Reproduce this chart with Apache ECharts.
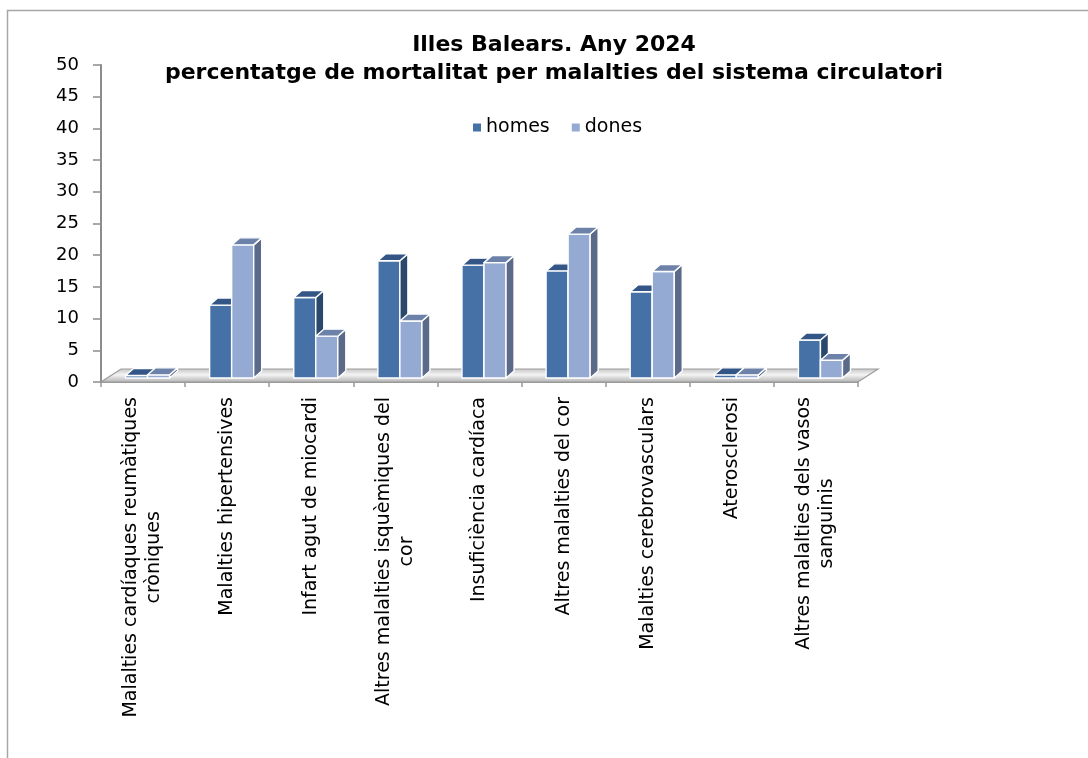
<!DOCTYPE html>
<html><head><meta charset="utf-8">
<script src="https://cdn.jsdelivr.net/npm/echarts@6/dist/echarts.min.js"></script>
<style>html,body{margin:0;padding:0;background:#fff}#c{width:1088px;height:758px}</style>
</head><body><div id="c"></div>
<script>
const categories = [
  'Malalties cardíaques reumàtiques\ncròniques',
  'Malalties hipertensives',
  'Infart agut de miocardi',
  'Altres malalties isquèmiques del\ncor',
  'Insuficiència cardíaca',
  'Altres malalties del cor',
  'Malalties cerebrovasculars',
  'Aterosclerosi',
  'Altres malalties dels vasos\nsanguinis'
];
const homes = [0.4, 11.5, 12.7, 18.5, 17.8, 16.9, 13.6, 0.5, 6.0];
const dones = [0.5, 21.0, 6.6, 9.0, 18.2, 22.7, 16.8, 0.5, 2.8];
const seriesNames = ['homes', 'dones'];
const titleLines = ['Illes Balears. Any 2024', 'percentatge de mortalitat per malalties del sistema circulatori'];

const FONT = 'DejaVu Sans';
const palette = [
  {front: '#4571a7', top: '#335686', side: '#2a476c'},
  {front: '#95aad3', top: '#6c82a9', side: '#5a6a88'}
];

function barRender(si) {
  const col = palette[si];
  return function (params, api) {
    const idx = api.value(0), val = api.value(1);
    const c = api.coord([idx, val]);
    const b = api.coord([idx, 0]);
    const W = api.size([1, 0])[0];
    const bw = W * 0.262;
    const sx = 4.5, sy = -4;
    const dx = 8, dy = -7;
    const x0 = c[0] + (si === 0 ? -bw : 0) + sx;
    const x1 = x0 + bw;
    const top = c[1] + sy, base = b[1] + sy;
    const stroke = {stroke: '#ffffff', lineWidth: 1.4, lineJoin: 'round'};
    return {
      type: 'group',
      children: [
        {type: 'rect', shape: {x: x0, y: top, width: bw, height: base - top},
          style: Object.assign({fill: col.front}, stroke)},
        {type: 'polygon', shape: {points: [[x1, top], [x1 + dx, top + dy], [x1 + dx, base + dy], [x1, base]]},
          style: Object.assign({fill: col.side}, stroke)},
        {type: 'polygon', shape: {points: [[x0, top], [x0 + dx, top + dy], [x1 + dx, top + dy], [x1, top]]},
          style: Object.assign({fill: col.top}, stroke)}
      ]
    };
  };
}

function floorRender(params, api) {
  const cs = params.coordSys;
  const x = cs.x, y = cs.y + cs.height, w = cs.width;
  const ddx = 20, ddy = -13;
  return {
    type: 'group',
    children: [
      {type: 'polygon', shape: {points: [[x, y], [x + w, y], [x + w + ddx, y + ddy], [x + ddx, y + ddy]]},
        style: {
          fill: new echarts.graphic.LinearGradient(0, 0, 0, 1, [
            {offset: 0, color: '#c4c4c4'}, {offset: 0.45, color: '#f4f4f4'}, {offset: 1, color: '#b0b0b0'}
          ]),
          stroke: '#9c9c9c', lineWidth: 1.2
        }}
    ]
  };
}

const chart = echarts.init(document.getElementById('c'), null, {renderer: 'canvas'});
chart.setOption({
  backgroundColor: '#ffffff',
  animation: false,
  title: {
    text: titleLines.join('\n'),
    left: 554, top: 31, textAlign: 'center', padding: 0,
    textStyle: {fontFamily: FONT, fontSize: 22, fontWeight: 'bold', color: '#000', lineHeight: 28}
  },
  legend: {
    data: seriesNames,
    left: 468, top: 113,
    icon: 'rect', itemWidth: 8, itemHeight: 8, itemGap: 22,
    textStyle: {fontFamily: FONT, fontSize: 19, color: '#000'}
  },
  graphic: [
    {type: 'rect', shape: {x: 7.5, y: 10.5, width: 1200, height: 900},
      style: {fill: 'none', stroke: '#a6a6a6', lineWidth: 1.5}, silent: true}
  ],
  grid: {left: 101, right: 230, top: 65, bottom: 376, containLabel: false},
  xAxis: {
    type: 'category', data: categories,
    axisLine: {show: true, lineStyle: {color: '#999', width: 2}},
    axisTick: {show: true, length: 5, lineStyle: {color: '#999', width: 1.5}},
    axisLabel: {
      interval: 0, rotate: 90, margin: 15,
      formatter: function (v) { return v.split('\n').map(s => '{c|' + s + '}').join('\n'); },
      rich: {c: {align: 'center', fontFamily: FONT, fontSize: 19, color: '#000', lineHeight: 23}}
    }
  },
  yAxis: {
    type: 'value', min: 0, max: 50, interval: 5,
    axisLine: {show: true, lineStyle: {color: '#8c8c8c', width: 2}},
    axisTick: {show: true, length: 8, lineStyle: {color: '#8c8c8c', width: 1.5}},
    splitLine: {show: false},
    axisLabel: {fontFamily: FONT, fontSize: 18, color: '#000', margin: 22}
  },
  series: [
    {type: 'custom', name: 'floor', renderItem: floorRender, data: [[0, 0]], z: 1, silent: true},
    {type: 'custom', name: seriesNames[0], renderItem: barRender(0), itemStyle: {color: palette[0].front},
      data: homes.map((v, i) => [i, v]), encode: {x: 0, y: 1}, z: 2},
    {type: 'custom', name: seriesNames[1], renderItem: barRender(1), itemStyle: {color: palette[1].front},
      data: dones.map((v, i) => [i, v]), encode: {x: 0, y: 1}, z: 3}
  ]
});
</script>
</body></html>
